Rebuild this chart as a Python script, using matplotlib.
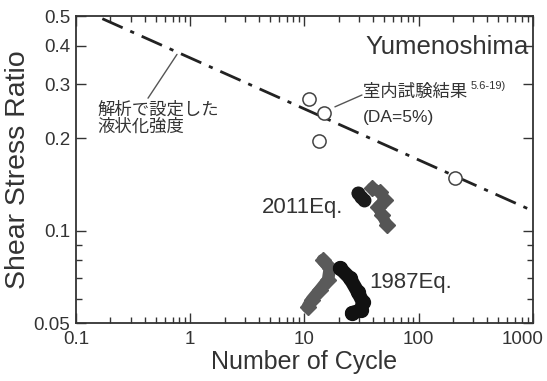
import matplotlib
matplotlib.use("Agg")
import matplotlib.pyplot as plt
from matplotlib.ticker import FixedLocator, NullFormatter, LogLocator
from matplotlib.transforms import ScaledTranslation

plt.rcParams['font.family'] = ['Liberation Sans', 'Noto Sans CJK JP', 'DejaVu Sans']

# liquefaction strength curve used in the analysis
curve_n = [0.17, 1000]
curve_ratio = [0.49, 0.116]

# laboratory test results (DA=5%)
lab_n = [10.9, 14.8, 13.4, 207]
lab_ratio = [0.268, 0.241, 0.196, 0.148]

# 2011 earthquake trails
eq2011_black_n = [29.4, 31.2, 33.3]
eq2011_black_r = [0.1326, 0.1285, 0.1258]
eq2011_gray_n = [39.0, 45.8, 50.7, 44.0, 47.7, 52.7]
eq2011_gray_r = [0.1376, 0.1336, 0.1258, 0.1194, 0.1124, 0.1043]

# 1987 earthquake trails
eq1987_gray_n = [14.5, 16.7, 16.1, 13.7, 11.6, 10.7]
eq1987_gray_r = [0.0802, 0.0755, 0.069, 0.064, 0.0594, 0.0564]
eq1987_black_n = [20.5, 25.0, 29.4, 32.5, 31.2, 26.1]
eq1987_black_r = [0.0755, 0.0701, 0.0631, 0.0585, 0.0551, 0.0539]

x_ticks = [0.1, 1, 10, 100, 1000]
x_labels = ['0.1', '1', '10', '100', '1000']
y_ticks = [0.05, 0.1, 0.2, 0.3, 0.4, 0.5]
y_labels = ['0.05', '0.1', '0.2', '0.3', '0.4', '0.5']

ink = '#333333'
fig = plt.figure(figsize=(5.47, 3.81), dpi=100)
ax = fig.add_axes([0.139, 0.152, 0.835, 0.806])
ax.set_xscale('log')
ax.set_yscale('log')
ax.set_xlim(0.1, 1000)
ax.set_ylim(0.05, 0.5)

ax.plot(curve_n, curve_ratio, color='#222222', lw=2.0, dashes=(8, 3, 1.5, 3))
ax.plot(lab_n, lab_ratio, 'o', ms=9.5, mfc='white', mec='#444444', mew=1.1, ls='none')

ax.plot(eq2011_black_n, eq2011_black_r, color='#1a1a1a', lw=9, marker='o', ms=9,
        solid_capstyle='round')
ax.plot(eq2011_gray_n, eq2011_gray_r, color='#555555', lw=8, marker='D', ms=8,
        solid_capstyle='round')
ax.plot(eq1987_gray_n, eq1987_gray_r, color='#5a5a5a', lw=9, marker='D', ms=8,
        solid_capstyle='round')
ax.plot(eq1987_black_n, eq1987_black_r, color='#111111', lw=10, marker='o', ms=10,
        solid_capstyle='round')

ax.xaxis.set_major_locator(FixedLocator(x_ticks))
ax.set_xticklabels(x_labels)
ax.xaxis.set_minor_locator(LogLocator(base=10, subs=range(2, 10)))
ax.xaxis.set_minor_formatter(NullFormatter())
ax.yaxis.set_major_locator(FixedLocator(y_ticks))
ax.set_yticklabels(y_labels)
ax.yaxis.set_minor_locator(FixedLocator([0.06, 0.07, 0.08, 0.09]))
ax.yaxis.set_minor_formatter(NullFormatter())

ax.tick_params(which='both', direction='in', top=True, right=True, colors=ink,
               labelcolor=ink, labelsize=13.5, width=1.0)
ax.tick_params(which='major', length=7)
ax.tick_params(which='minor', length=4)
ax.tick_params(axis='x', pad=6)
ax.tick_params(axis='y', pad=4)
for s in ax.spines.values():
    s.set_color(ink)
    s.set_linewidth(1.3)

# pull the last x label in so it stays inside the figure
last = ax.xaxis.get_major_ticks()[-1].label1
last.set_transform(last.get_transform() + ScaledTranslation(-0.1, 0, fig.dpi_scale_trans))

ax.set_xlabel('Number of Cycle', fontsize=18, color=ink, labelpad=1)
ax.set_ylabel('Shear Stress Ratio', fontsize=20.5, color=ink, labelpad=2)

ax.text(0.99, 0.9, 'Yumenoshima', transform=ax.transAxes, ha='right', va='center',
        fontsize=18.5, color=ink)

ax.text(0.153, 0.233, '解析で設定した\n液状化強度', fontsize=12.5, color=ink,
        va='center', ha='left', linespacing=1.05)
ax.annotate('', xy=(0.766, 0.375), xytext=(0.427, 0.270),
            arrowprops=dict(arrowstyle='-', color='#555555', lw=1,
                            shrinkA=0, shrinkB=0))

ax.text(32.5, 0.282, '室内試験結果', fontsize=12.5, color=ink, va='center', ha='left')
ax.text(283, 0.296, '5.6-19)', fontsize=8, color=ink, va='center', ha='left')
ax.text(32.5, 0.234, '(DA=5%)', fontsize=12.5, color=ink, va='center', ha='left')
ax.annotate('', xy=(18.5, 0.253), xytext=(31.9, 0.2765),
            arrowprops=dict(arrowstyle='-', color='#555555', lw=1,
                            shrinkA=0, shrinkB=0))

ax.text(4.25, 0.119, '2011Eq.', fontsize=16, color=ink, va='center', ha='left')
ax.text(37, 0.068, '1987Eq.', fontsize=16, color=ink, va='center', ha='left')

fig.savefig('out.png', dpi=100)
